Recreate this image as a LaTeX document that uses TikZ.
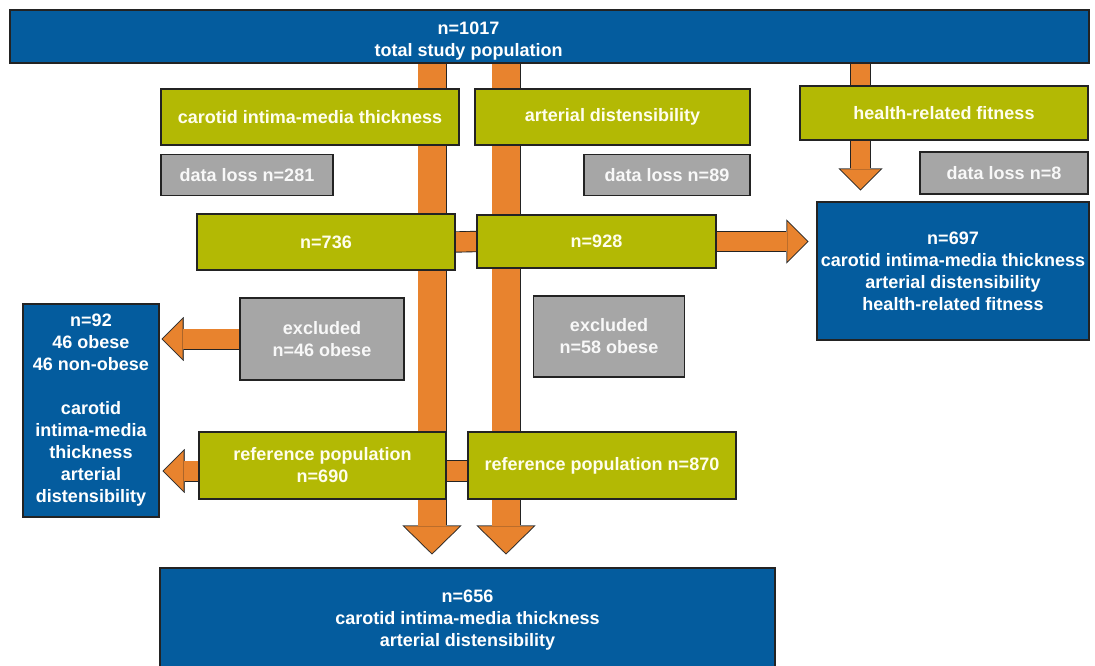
\documentclass[tikz,border=0pt]{standalone}
\usepackage{fontspec}
\setmainfont{Liberation Sans}
\usetikzlibrary{arrows.meta, calc, backgrounds}

\definecolor{popblue}{RGB}{4,92,158}
\definecolor{measgreen}{RGB}{179,185,4}
\definecolor{lossgray}{RGB}{166,166,166}
\definecolor{barorange}{RGB}{232,131,46}
\definecolor{edge}{RGB}{35,35,35}

\tikzstyle{box} = [rectangle, draw=edge, line width=1.1pt, inner sep=1pt, align=center, font=\fontsize{18}{22}\selectfont\bfseries]
\tikzstyle{popbox} = [box, fill=popblue, text=white]
\tikzstyle{measure} = [box, fill=measgreen, text=white!93!yellow]
\tikzstyle{loss} = [box, fill=lossgray, text=white!92!lossgray]
\tikzstyle{link} = [draw=edge, line width=0.9pt, double=barorange, double distance=19.5pt]
\tikzstyle{bigout} = [draw=edge, line width=29pt, -{Triangle[length=29pt, width=59pt, line width=0.1pt]}]
\tikzstyle{bigin} = [draw=barorange, line width=27.2pt, shorten >=1.25pt, -{Triangle[length=26.8pt, width=54.6pt, line width=0.1pt]}]
\tikzstyle{smallout} = [draw=edge, line width=21pt, -{Triangle[length=22pt, width=44pt, line width=0.1pt]}]
\tikzstyle{smallin} = [draw=barorange, line width=19.2pt, shorten >=1.25pt, -{Triangle[length=19.8pt, width=39.6pt, line width=0.1pt]}]

% fat orange arrow: dark outline pass, then orange pass
\newcommand{\fatarrow}[3]{\draw[#1out] #2 -- #3; \draw[#1in] #2 -- #3;}

\begin{document}
\begin{tikzpicture}[x=1pt, y=-1pt]
\useasboundingbox (0,0) rectangle (1095,666);

\node (total) [popbox, minimum width=1079pt, minimum height=53pt] at (549.5,36.5) {\hspace*{-162pt}\raisebox{-5pt}[\height][\depth]{\begin{tabular}{c}n=1017\\total study population\end{tabular}}};

\node (carotid) [measure, minimum width=298pt, minimum height=56pt] at (310,117) {carotid intima-media thickness};
\node (arterial) [measure, minimum width=275pt, minimum height=56pt] at (612.5,117) {arterial distensibility};
\node (fitness) [measure, minimum width=288pt, minimum height=54pt] at (944,113) {health-related fitness};

\node (loss281) [loss, minimum width=172pt, minimum height=41pt] at (247,175) {data loss n=281};
\node (loss89) [loss, minimum width=166pt, minimum height=41pt] at (667,175) {data loss n=89};
\node (loss8) [loss, minimum width=168pt, minimum height=42pt] at (1004,173) {data loss n=8};

\node (n736) [measure, minimum width=258pt, minimum height=56pt] at (326,242) {n=736};
\node (n928) [measure, minimum width=239pt, minimum height=53pt] at (596.5,241.5) {n=928};
\node (n697) [popbox, minimum width=272pt, minimum height=138pt] at (953,271) {n=697\\carotid intima-media thickness\\arterial distensibility\\health-related fitness};

\node (excl46) [loss, minimum width=164pt, minimum height=82pt] at (322,339) {excluded\\n=46 obese};
\node (excl58) [loss, minimum width=151pt, minimum height=81pt] at (609,336.5) {excluded\\n=58 obese};
\node (n92) [popbox, minimum width=136pt, minimum height=213pt] at (91,410.5) {n=92\\46 obese\\46 non-obese\\[22pt]carotid\\intima-media\\thickness\\arterial\\distensibility};

\node (ref690) [measure, minimum width=247pt, minimum height=67pt] at (322.5,465.5) {reference population\\n=690};
\node (ref870) [measure, minimum width=268pt, minimum height=67pt] at (602,465.5) {reference population n=870};

\node (summary) [popbox, minimum width=615pt, minimum height=104pt] at (467.5,620) {n=656\\carotid intima-media thickness\\arterial distensibility};

\coordinate (colL) at (432,0);
\coordinate (colM) at (506,0);
\coordinate (colR) at (860.5,0);

\begin{scope}[on background layer]
\fatarrow{big}{(total.south -| colL)}{($(summary.north -| colL)+(0,-13)$)}
\fatarrow{big}{(total.south -| colM)}{($(summary.north -| colM)+(0,-13)$)}
\draw [link] (total.south -| colR) -- (fitness.north -| colR);
\fatarrow{small}{(fitness.south -| colR)}{($(n697.north -| colR)+(0,-11)$)}
\draw [link] (n736.east) -- (n928.west);
\fatarrow{small}{(n928.east)}{($(n928.east -| n697.west)+(-8,0)$)}
\fatarrow{small}{(excl46.west)}{($(excl46.west -| n92.east)+(2,0)$)}
\fatarrow{small}{($(ref690.west)+(0,5.5)$)}{($(ref690.west -| n92.east)+(3,5.5)$)}
\draw [link] ($(ref690.east)+(0,5.5)$) -- ($(ref870.west)+(0,5.5)$);
\end{scope}
\end{tikzpicture}
\end{document}
